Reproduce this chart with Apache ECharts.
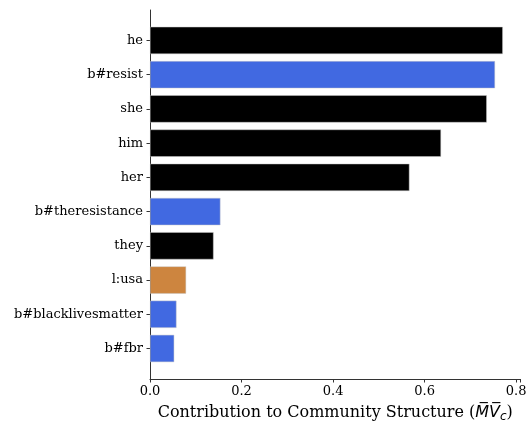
<!DOCTYPE html>
<html>
<head>
<meta charset="utf-8">
<script src="https://cdn.jsdelivr.net/npm/echarts@6/dist/echarts.min.js"></script>
<style>html,body{margin:0;padding:0;background:#fff}#c{width:531px;height:421px}</style>
</head>
<body>
<div id="c"></div>
<script>
const categories = ['he', 'b#resist', 'she', 'him', 'her', 'b#theresistance', 'they', 'l:usa', 'b#blacklivesmatter', 'b#fbr'];
const values = [0.771, 0.754, 0.736, 0.636, 0.567, 0.154, 0.139, 0.079, 0.058, 0.053];
const groups = ['word', 'hashtag', 'word', 'word', 'word', 'hashtag', 'word', 'location', 'hashtag', 'hashtag'];
const xTicks = [0.0, 0.2, 0.4, 0.6, 0.8];

const groupColor = { word: '#000000', hashtag: '#4169E1', location: '#CD853F' };
const FONT = 'DejaVu Serif';
const MATH = 'DejaVu Sans';
const xMax = Math.max(...values) * 1.05;

const chart = echarts.init(document.getElementById('c'), null, { renderer: 'canvas' });
const axisCol = '#333333';
chart.setOption({
  animation: false,
  textStyle: { fontFamily: FONT },
  grid: [
    { left: 150, right: 10.5, top: 10, bottom: 42, containLabel: false, outerBoundsMode: 'none' },
    { left: 150, right: 10.5, top: 23.35, bottom: 55.4, containLabel: false, outerBoundsMode: 'none' }
  ],
  xAxis: [
    {
      gridIndex: 0, type: 'value', min: 0, max: xMax, interval: 0.2,
      splitLine: { show: false },
      axisLine: { show: true, lineStyle: { color: axisCol, width: 1 } },
      axisTick: { show: true, length: 3.5, lineStyle: { color: axisCol } },
      axisLabel: { color: '#000', fontSize: 13, fontFamily: FONT, margin: 6,
        formatter: v => xTicks.some(t => Math.abs(t - v) < 1e-9) ? v.toFixed(1) : '' },
      name: '{n|Contribution to Community Structure (}{mv|M\u0305V\u0305}{sub|c}{n|)}',
      nameLocation: 'middle', nameGap: 24,
      nameTextStyle: {
        rich: {
          n: { fontSize: 16, fontFamily: FONT, color: '#000' },
          mv: { fontSize: 16, fontFamily: MATH, fontStyle: 'italic', color: '#000' },
          sub: { fontSize: 12, fontFamily: MATH, fontStyle: 'italic', color: '#000', padding: [8, 0, 0, 0] }
        }
      }
    },
    {
      gridIndex: 1, type: 'value', min: 0, max: xMax, show: false
    }
  ],
  yAxis: [
    {
      gridIndex: 0, type: 'value', min: 0, max: 1,
      splitLine: { show: false },
      axisLine: { show: true, lineStyle: { color: axisCol, width: 1 } },
      axisTick: { show: false }, axisLabel: { show: false }
    },
    {
      gridIndex: 1, type: 'category', data: categories, inverse: true,
      axisLine: { show: false },
      axisTick: { show: true, alignWithLabel: true, length: 3.5, lineStyle: { color: axisCol } },
      axisLabel: { color: '#000', fontSize: 13, fontFamily: FONT, margin: 7 }
    }
  ],
  series: [{
    type: 'bar', xAxisIndex: 1, yAxisIndex: 1,
    barWidth: '80%',
    data: values.map((v, i) => ({
      value: v,
      itemStyle: { color: groupColor[groups[i]], borderColor: 'rgba(200,200,200,0.8)', borderWidth: 0.6 }
    }))
  }]
});
</script>
</body>
</html>
